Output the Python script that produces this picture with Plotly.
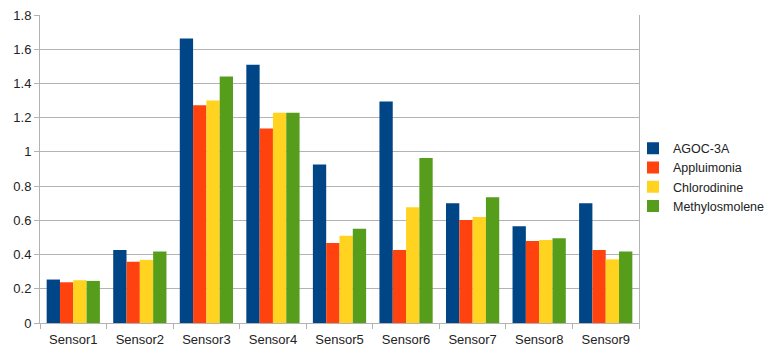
import plotly.graph_objects as go

categories = ["Sensor1", "Sensor2", "Sensor3", "Sensor4", "Sensor5",
              "Sensor6", "Sensor7", "Sensor8", "Sensor9"]
agoc_3a = [0.254, 0.426, 1.663, 1.509, 0.926, 1.295, 0.700, 0.565, 0.700]
appluimonia = [0.238, 0.358, 1.272, 1.137, 0.467, 0.426, 0.602, 0.479, 0.426]
chlorodinine = [0.250, 0.369, 1.300, 1.229, 0.510, 0.676, 0.620, 0.485, 0.372]
methylosmolene = [0.246, 0.418, 1.440, 1.229, 0.551, 0.965, 0.735, 0.496, 0.418]

series_names = ["AGOC-3A", "Appluimonia", "Chlorodinine", "Methylosmolene"]
series_values = [agoc_3a, appluimonia, chlorodinine, methylosmolene]
colors = ["#004586", "#ff420e", "#ffd320", "#579d1c"]

fig = go.Figure()
for name, vals, col in zip(series_names, series_values, colors):
    fig.add_trace(go.Bar(x=categories, y=vals, name=name,
                         marker=dict(color=col, line=dict(width=0))))

font_family = "Liberation Sans, Arial, sans-serif"
fig.update_layout(
    width=770, height=354,
    margin=dict(l=40, r=131, t=15, b=31, autoexpand=False),
    paper_bgcolor="white", plot_bgcolor="white",
    barmode="group", bargap=0.2, bargroupgap=0,
    font=dict(family=font_family, size=13, color="#222222"),
    showlegend=True,
    legend=dict(x=0.99, xanchor="left", y=0.474, yanchor="middle",
                font=dict(size=12.5, color="#222222"),
                bgcolor="rgba(0,0,0,0)", itemwidth=30,
                tracegroupgap=0),
    xaxis=dict(showline=True, linecolor="#b3b3b3", linewidth=1,
               ticks="outside", ticklen=5, tickcolor="#b3b3b3",
               tickson="boundaries", showgrid=False, zeroline=False,
               ticklabelstandoff=4,
               tickfont=dict(size=13, color="#222222")),
    yaxis=dict(range=[0, 1.8], dtick=0.2, tick0=0,
               showline=True, mirror=True, linecolor="#b3b3b3", linewidth=1,
               ticks="outside", ticklen=5, tickcolor="#b3b3b3",
               showgrid=True, gridcolor="#b3b3b3", gridwidth=1,
               zeroline=False,
               tickfont=dict(size=13, color="#222222")),
)

fig.write_html("out.html")
